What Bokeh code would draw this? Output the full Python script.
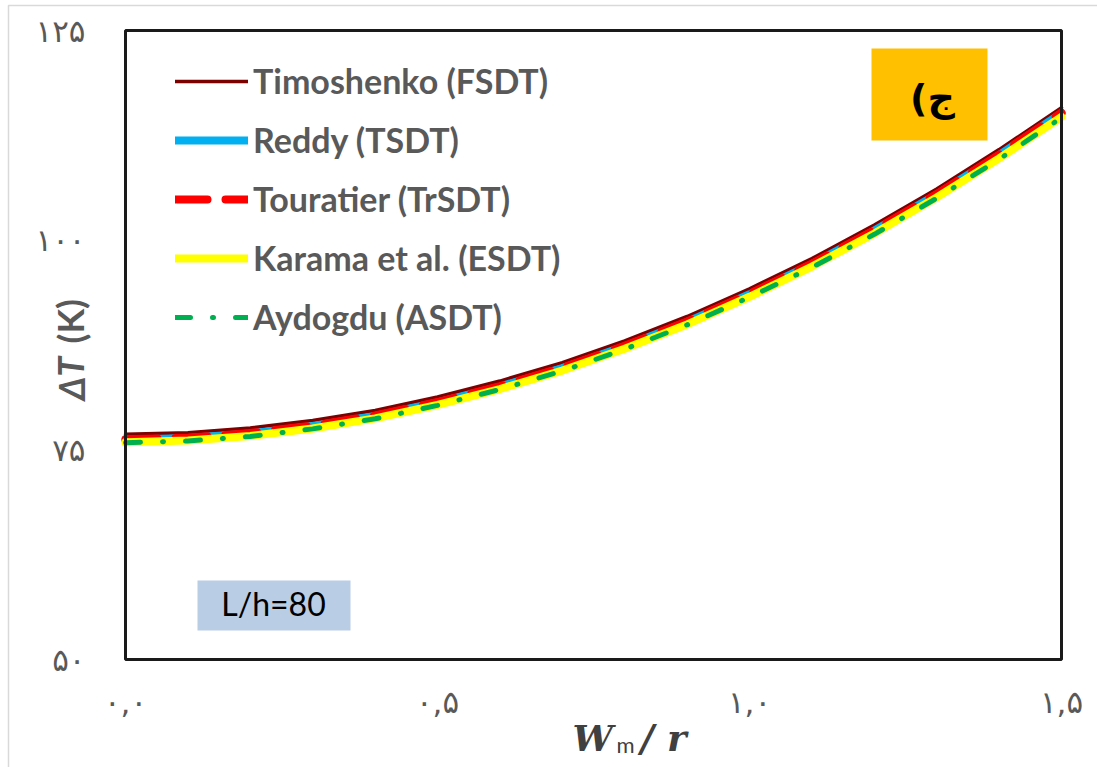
from bokeh.plotting import figure
from bokeh.models import Range1d, FixedTicker, Legend, LegendItem, Label, BoxAnnotation, LinearAxis
from bokeh.embed import file_html
from bokeh.resources import INLINE

# ---- data ----
w_m_r = [0.0, 0.1, 0.2, 0.3, 0.4, 0.5, 0.6, 0.7, 0.8, 0.9, 1.0, 1.1, 1.2, 1.3, 1.4, 1.5]
timoshenko = [76.85, 77.05, 77.6, 78.5, 79.7, 81.3, 83.2, 85.4, 88.0, 90.9, 94.2, 97.8, 101.8, 106.1, 110.8, 115.8]
reddy      = [76.2, 76.4, 76.95, 77.85, 79.05, 80.65, 82.55, 84.75, 87.35, 90.25, 93.55, 97.15, 101.15, 105.45, 110.15, 115.15]
touratier  = [76.25, 76.45, 77.0, 77.9, 79.1, 80.7, 82.6, 84.8, 87.4, 90.3, 93.6, 97.2, 101.2, 105.5, 110.2, 115.2]
karama     = [75.9, 76.1, 76.65, 77.55, 78.75, 80.35, 82.25, 84.45, 87.05, 89.95, 93.25, 96.85, 100.8, 105.1, 109.75, 114.7]
aydogdu    = [75.85, 76.05, 76.6, 77.5, 78.7, 80.3, 82.2, 84.4, 87.0, 89.9, 93.2, 96.75, 100.7, 105.0, 109.65, 114.6]

series_names = ["Timoshenko (FSDT)", "Reddy (TSDT)", "Touratier (TrSDT)",
                "Karama et al. (ESDT)", "Aydogdu (ASDT)"]

x_tick_vals = [0, 0.5, 1.0, 1.5]
x_tick_labels = ["۰,۰", "۰,۵", "۱,۰", "۱,۵"]
y_tick_vals = [50, 75, 100, 125]
y_tick_labels = ["۵۰", "۷۵", "۱۰۰", "۱۲۵"]

panel_tag = "ج)\u200f"
ratio_tag = "L/h=80"

# ---- layout: the frame fills the whole canvas; the plot box is 0..1.5 x 50..125 ----
W, H = 1097, 767
px_left, px_right, px_top, px_bottom = 125, 1061, 30, 659
sx = (px_right - px_left) / 1.5
sy = (px_bottom - px_top) / 75.0
x_range = Range1d(0 - px_left / sx, 1.5 + (W - px_right) / sx)
y_range = Range1d(50 - (H - px_bottom) / sy, 125 + px_top / sy)

p = figure(width=W, height=H, output_backend="svg", toolbar_location=None,
           x_range=x_range, y_range=y_range, title=None,
           x_axis_location=None, y_axis_location=None,
           min_border=0, min_border_left=0, min_border_right=0,
           min_border_top=0, min_border_bottom=0)
p.grid.visible = False
p.outline_line_color = None
p.background_fill_color = "white"
p.border_fill_color = "white"

# light chart-area border (visible on the left and top only)
p.add_layout(BoxAnnotation(left=8, right=1300, bottom=-100, top=H - 5,
                           left_units="screen", right_units="screen",
                           bottom_units="screen", top_units="screen",
                           fill_alpha=0, line_color="#d9d9d9", line_alpha=1, line_width=1.5))

xaxis = LinearAxis(fixed_location=50)
yaxis = LinearAxis(fixed_location=0)
p.add_layout(xaxis, "below")
p.add_layout(yaxis, "left")
for ax in (xaxis, yaxis):
    ax.axis_line_color = None
    ax.major_tick_line_color = None
    ax.minor_tick_line_color = None
    ax.major_tick_out = 0
    ax.major_tick_in = 0
    ax.major_label_text_color = "#595959"
    ax.major_label_text_font = "DejaVu Sans"
    ax.major_label_text_font_size = "31px"

xaxis.ticker = FixedTicker(ticks=x_tick_vals)
xaxis.major_label_overrides = dict(zip(x_tick_vals, x_tick_labels))
xaxis.major_label_standoff = 24
yaxis.ticker = FixedTicker(ticks=y_tick_vals)
yaxis.major_label_standoff = 40
yaxis.major_label_overrides = dict(zip(y_tick_vals, y_tick_labels))

r1 = p.line(w_m_r, timoshenko, line_color="#7b0000", line_width=3.5, line_cap="round")
r2 = p.line(w_m_r, reddy, line_color="#00b0f0", line_width=8, line_cap="round")
r3 = p.line(w_m_r, touratier, line_color="#ff0000", line_width=8, line_cap="round", line_dash="32 18")
r4 = p.line(w_m_r, karama, line_color="#ffff00", line_width=8, line_cap="round")
r5 = p.line(w_m_r, aydogdu, line_color="#00b050", line_width=5, line_cap="round", line_dash="15 22 1 22")

# plot-area border
p.add_layout(BoxAnnotation(left=0, right=1.5, bottom=50, top=125,
                           fill_alpha=0, line_color="#1a1a1a", line_alpha=1, line_width=3))

legend = Legend(items=[LegendItem(label=n, renderers=[r]) for n, r in
                       zip(series_names, [r1, r2, r3, r4, r5])],
                location=(175, 430), orientation="vertical",
                glyph_width=73, glyph_height=30, label_height=30, label_standoff=5,
                spacing=18, padding=0, margin=0,
                label_text_font="Lato", label_text_font_style="bold",
                label_text_font_size="34px", label_text_color="#595959",
                border_line_color=None, background_fill_alpha=0)
p.add_layout(legend)

# boxes (canvas pixels, y measured up from the bottom)
p.add_layout(BoxAnnotation(left=871, right=987, bottom=627, top=719,
                           left_units="screen", right_units="screen",
                           bottom_units="screen", top_units="screen",
                           fill_color="#ffc000", fill_alpha=1, line_color=None))
p.add_layout(BoxAnnotation(left=197, right=350, bottom=137, top=187,
                           left_units="screen", right_units="screen",
                           bottom_units="screen", top_units="screen",
                           fill_color="#b9cde5", fill_alpha=1, line_color=None))

p.add_layout(Label(x=932, y=670, x_units="screen", y_units="screen", text=panel_tag,
                   text_align="center", text_baseline="middle",
                   text_font="DejaVu Sans", text_font_style="bold",
                   text_font_size="38px", text_color="black"))
p.add_layout(Label(x=273, y=164, x_units="screen", y_units="screen", text=ratio_tag,
                   text_align="center", text_baseline="middle",
                   text_font="Lato", text_font_size="32px", text_color="black"))

# axis titles
p.add_layout(Label(x=572, y=30, x_units="screen", y_units="screen", text="W",
                   text_align="left", text_baseline="alphabetic",
                   text_font="DejaVu Serif", text_font_style="bold italic",
                   text_font_size="36px", text_color="#404040"))
p.add_layout(Label(x=616, y=23, x_units="screen", y_units="screen", text="m",
                   text_align="left", text_baseline="alphabetic",
                   text_font="Lato", text_font_size="22px", text_color="#404040"))
p.add_layout(Label(x=640, y=30, x_units="screen", y_units="screen", text="/ r",
                   text_align="left", text_baseline="alphabetic",
                   text_font="DejaVu Serif", text_font_style="bold italic",
                   text_font_size="37px", text_color="#404040"))

p.add_layout(Label(x=70, y=367, x_units="screen", y_units="screen", text="ΔT",
                   angle=1.5708, text_align="left", text_baseline="alphabetic",
                   text_font="Lato", text_font_style="bold italic",
                   text_font_size="36px", text_color="#595959"))
p.add_layout(Label(x=70, y=424, x_units="screen", y_units="screen", text="(K)",
                   angle=1.5708, text_align="left", text_baseline="alphabetic",
                   text_font="Lato", text_font_style="bold",
                   text_font_size="36px", text_color="#595959"))

open("out.html", "w").write(file_html(p, INLINE))
